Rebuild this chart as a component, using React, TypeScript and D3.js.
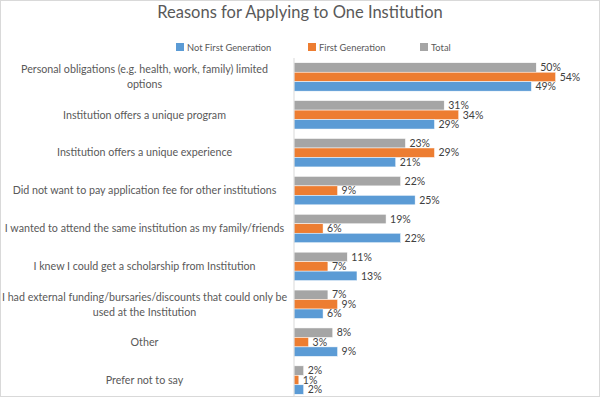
import React from 'react';
import * as d3 from 'd3';

// '\n' marks where the original chart wrapped the label
const categories = [
  'Personal obligations (e.g. health, work, family) limited\noptions',
  'Institution offers a unique program',
  'Institution offers a unique experience',
  'Did not want to pay application fee for other institutions',
  'I wanted to attend the same institution as my family/friends',
  'I knew I could get a scholarship from Institution',
  'I had external funding/bursaries/discounts that could only be\nused at the Institution',
  'Other',
  'Prefer not to say',
];
const seriesNames = ['Total', 'First Generation', 'Not First Generation'];
const totalVals = [50, 31, 23, 22, 19, 11, 7, 8, 2];
const firstGenVals = [54, 34, 29, 9, 6, 7, 9, 3, 1];
const notFirstGenVals = [49, 29, 21, 25, 22, 13, 6, 9, 2];
const legendOrder = ['Not First Generation', 'First Generation', 'Total'];

const colors: Record<string, string> = {
  'Not First Generation': '#5B9BD5',
  'First Generation': '#ED7D31',
  Total: '#A5A5A5',
};

const W = 600;
const H = 397;
const FONT = 'Lato, "Liberation Sans", sans-serif';

const App = () => {
  const data = [totalVals, firstGenVals, notFirstGenVals];
  const x = d3.scaleLinear().domain([0, 60]).range([294, 294 + 60 * 4.845]);
  const y = d3
    .scaleBand<string>()
    .domain(categories)
    .range([58, 399])
    .paddingInner(0.25)
    .paddingOuter(0.125);
  const inner = d3
    .scaleBand<string>()
    .domain(seriesNames)
    .range([0, y.bandwidth()]);

  const labelSize = 10.7;
  const legendX = [176, 308, 420];

  return (
    <svg width={W} height={H} style={{ position: 'absolute', left: 0, top: 0 }}>
      <rect x={0.5} y={0.5} width={W - 1} height={H - 1} fill="#fff" stroke="#D9D9D9" />
      <text x={300} y={18} textAnchor="middle" fontFamily={FONT} fontSize={16.5} fill="#595959">
        Reasons for Applying to One Institution
      </text>
      {legendOrder.map((s, i) => (
        <g key={s} transform={`translate(${legendX[i]},43)`}>
          <rect width={8} height={8} fill={colors[s]} />
          <text x={11} y={8} fontFamily={FONT} fontSize={9.3} fill="#595959">
            {s}
          </text>
        </g>
      ))}
      {categories.map((c, ci) => {
        const lines = c.split('\n');
        const cy = (y(c) || 0) + y.bandwidth() / 2;
        const lh = 15;
        const y0 = cy - ((lines.length - 1) * lh) / 2;
        return (
          <g key={c}>
            {lines.map((l, li) => (
              <text
                key={li}
                x={144.5}
                y={y0 + li * lh}
                dy="0.35em"
                textAnchor="middle"
                fontFamily={FONT}
                fontSize={labelSize}
                fill="#595959"
              >
                {l}
              </text>
            ))}
            {seriesNames.map((s, si) => {
              const v = data[si][ci];
              const by = (y(c) || 0) + (inner(s) || 0);
              return (
                <g key={s}>
                  <rect
                    x={x(0)}
                    y={by}
                    width={x(v) - x(0)}
                    height={inner.bandwidth()}
                    fill={colors[s]}
                    stroke="#fff"
                    strokeWidth={0.5}
                  />
                  <text
                    x={x(v) + 4}
                    y={by + inner.bandwidth() / 2}
                    dy="0.35em"
                    fontFamily={FONT}
                    fontSize={10.5}
                    fill="#404040"
                  >
                    {v}%
                  </text>
                </g>
              );
            })}
          </g>
        );
      })}
      <line x1={x(0)} x2={x(0)} y1={58} y2={396} stroke="#D9D9D9" />
    </svg>
  );
};

export default App;
